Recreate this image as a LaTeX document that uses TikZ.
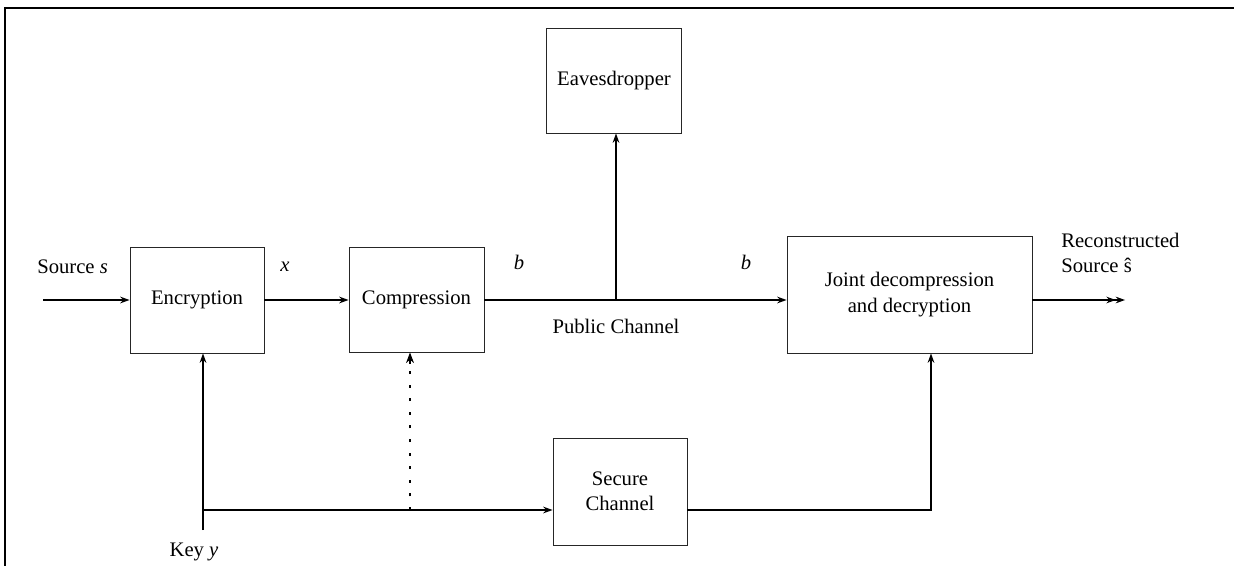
\documentclass[tikz,border=0pt]{standalone}
\usepackage{fontspec}
\setmainfont{Liberation Serif}
\usetikzlibrary{arrows.meta}
\begin{document}
\begin{tikzpicture}[x=0.75pt,y=-0.75pt,
  blk/.style={draw=black!85,line width=0.7pt,inner sep=2pt,align=center,font=\fontsize{15.5}{19}\selectfont},
  lbl/.style={inner sep=0pt,font=\fontsize{15.5}{19}\selectfont},
  conn/.style={line width=0.9pt,-{Stealth[length=7pt,width=5pt]}},
]
\useasboundingbox (0,0) rectangle (1234,566);
\draw[line width=2.2pt] (5,566) -- (5,8) -- (1234,8);

\node[blk,minimum width=101.25pt,minimum height=78.75pt] (eav) at (614,80.5) {Eavesdropper};
\node[blk,minimum width=100.5pt,minimum height=79.5pt] (enc) at (197,300) {Encryption};
\node[blk,minimum width=101.25pt,minimum height=78.75pt] (comp) at (416.5,299.5) {Compression};
\node[blk,minimum width=183.75pt,minimum height=87.75pt] (joint) at (909.5,294.5) {Joint decompression\\and decryption};
\node[blk,minimum width=100.5pt,minimum height=80.25pt] (sec) at (620,491.5) {Secure\\Channel};

\coordinate (src) at (43,300);
\coordinate (tap) at (616,300);
\coordinate (out) at (1125,300);
\coordinate (keyB) at (203,530);
\coordinate (keyJ) at (203,510);
\coordinate (dotB) at (410,510);
\coordinate (dotT) at (410,364);
\coordinate (secR) at (931,510);

\draw[conn] (src) -- (enc.west |- src);
\draw[conn] (enc.east |- src) -- (comp.west |- src);
\draw[conn] (comp.east |- src) -- (joint.west |- src);
\draw[conn] (tap) -- (tap |- eav.south);
\draw[line width=0.9pt,-{Stealth[length=7pt,width=5pt]Stealth[length=7pt,width=5pt]}] (joint.east |- out) -- (out);
\draw[conn] (keyB) -- (keyB |- enc.south);
\draw[conn] (keyJ) -- (sec.west |- keyJ);
\draw[line width=2.2pt,dash pattern=on 2.2pt off 8pt] (dotB) -- (dotT);
\draw[line width=0.9pt,-{Stealth[length=8pt,width=6pt]}] (dotT) -- (dotB |- comp.south);
\draw[conn] (sec.east |- secR) -- (secR) -- (secR |- joint.south);

\node[lbl,anchor=west] (lsrc) at (37,267) {Source \textit{s}};
\node[lbl] (lx) at (285,267) {\textit{x}};
\node[lbl] (lb1) at (519,262) {\textit{b}};
\node[lbl] (lb2) at (746,262) {\textit{b}};
\node[lbl] (lpub) at (616,326) {Public Channel};
\node[lbl,anchor=west,align=left] (lrec) at (1061,253) {Reconstructed\\Source ŝ};
\node[lbl] (lkey) at (194,552) {Key \textit{y}};
\end{tikzpicture}
\end{document}
